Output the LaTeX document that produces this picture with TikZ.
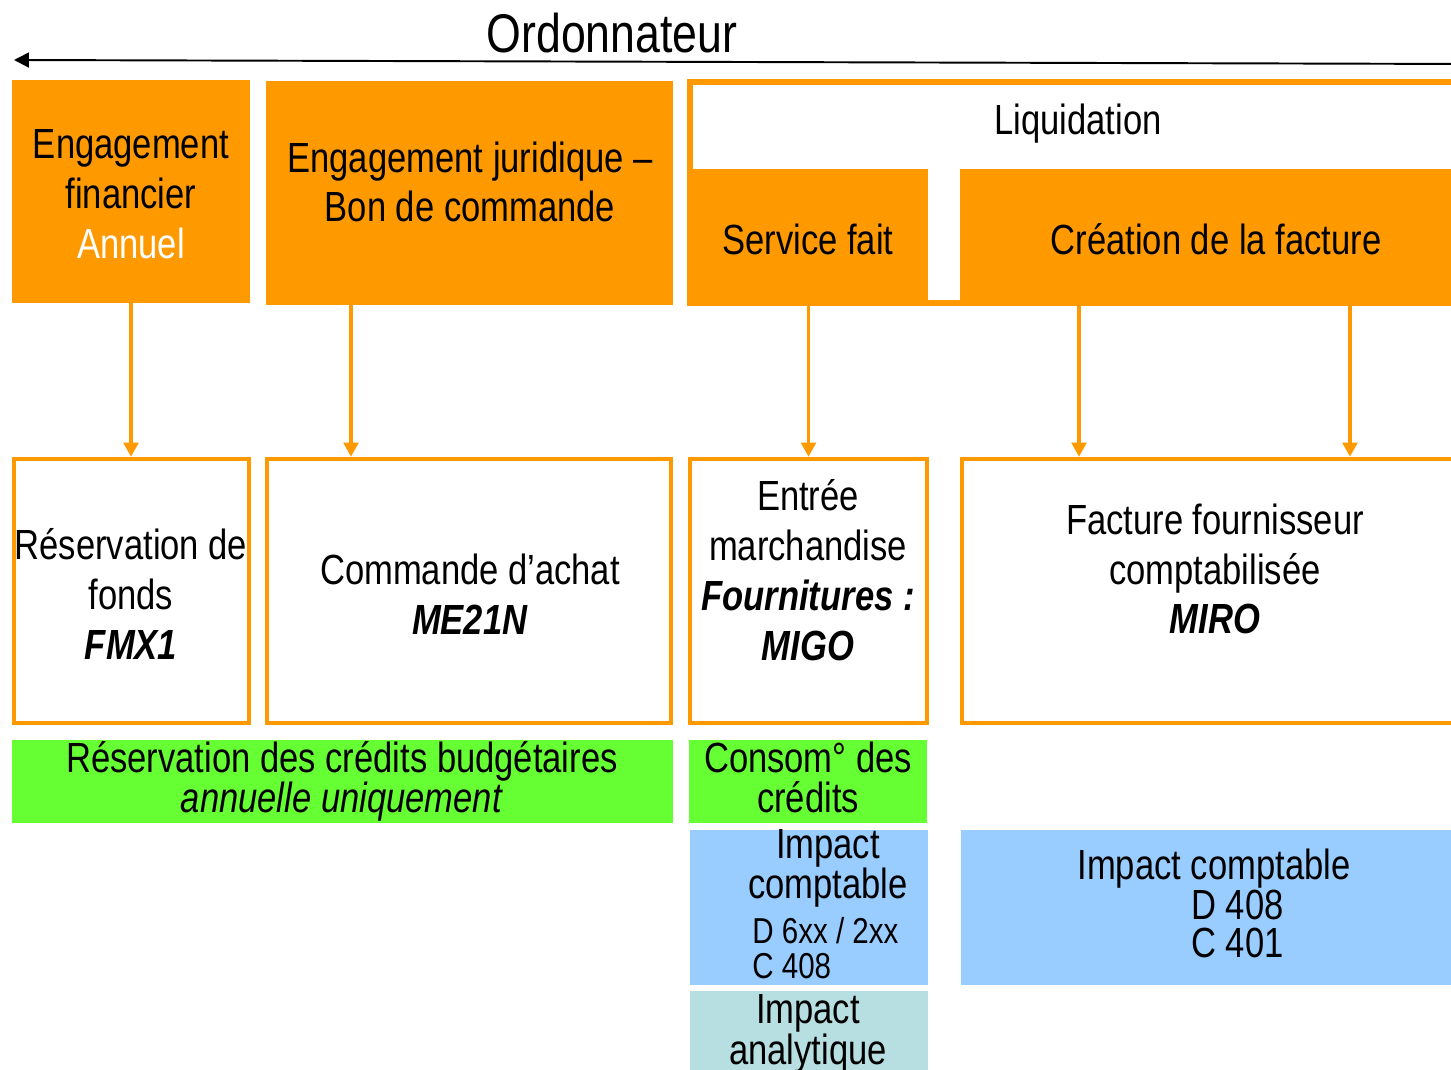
\documentclass[tikz,border=0pt]{standalone}
\usepackage{fontspec}
\setmainfont{Liberation Sans}[FakeStretch=0.82]
\usetikzlibrary{arrows.meta,fit}
\definecolor{orangeF}{RGB}{255,153,0}
\definecolor{vertB}{RGB}{102,255,51}
\definecolor{bleuC}{RGB}{153,204,255}
\definecolor{bleuA}{RGB}{183,222,224}
\newcommand{\serre}{\fontsize{24}{22.7}\selectfont}
\newcommand{\petit}{\fontsize{20.5}{19.8}\selectfont}
\newcommand{\code}[1]{\textbf{\textit{#1}}}
\tikzset{
  etape/.style={fill=orangeF, inner sep=0pt},
  cadre/.style={draw=orangeF, line width=3.4pt, inner sep=0pt},
  transac/.style={draw=orangeF, line width=2.55pt, fill=white, inner sep=0pt},
  credit/.style={fill=vertB, inner sep=0pt},
  impact/.style={fill=bleuC, inner sep=0pt},
  analyt/.style={fill=bleuA, inner sep=0pt},
  fleche/.style={draw=orangeF, line width=1.9pt, -{Triangle[width=8.3pt,length=8pt]}},
  txt/.style={inner sep=0pt, align=center}
}

\begin{document}
\begin{tikzpicture}[x=0.02cm, y=-0.02cm, font=\fontsize{24}{28.35}\selectfont]
    \clip (0,0) rectangle (1451,1070);
    \fill[white] (0,0) rectangle (1451,1070);
    %ordonnateur
    \node[txt, font=\fontsize{31}{36}\selectfont] (ordo) at (612,33) {Ordonnateur};
    \coordinate (debut) at (1470,64);
    \coordinate (fin) at (14,60);
    \draw[line width=1.1pt, -{Triangle[width=8.5pt,length=8.5pt]}] (debut) -- (fin);

    %etapes
    \node[etape, fit={(12,80) (250,303)}] (ef) {};
    \node[etape, fit={(266,81) (673,305)}] (ej) {};
    \node[cadre, fit={(690,82) (1475,303)}] (liq) {};
    \node[etape, fit={(687,169) (928,306)}] (sf) {};
    \node[etape, fit={(960,169) (1475,300)}] (cf) {};
    \node[txt] (efT) at (131,194) {Engagement\\financier\\\textcolor{white}{Annuel}};
    \node[txt] (ejT) at (470,182) {Engagement juridique --\\Bon de commande};
    \node[txt] (liqT) at (1078,124) {Liquidation};
    \node[txt] (sfT) at (808,239) {Service fait};
    \node[txt] (cfT) at (1216,239) {Création de la facture};

    %transactions
    \node[transac, fit={(14,459) (249,723)}] (rf) {};
    \node[transac, fit={(267,459) (671,723)}] (ca) {};
    \node[transac, fit={(690,459) (927,723)}] (em) {};
    \node[transac, fit={(962,459) (1475,723)}] (ff) {};
    \node[txt] (rfT) at (131,594) {Réservation de\\fonds\\\code{FMX1}};
    \node[txt] (caT) at (470,594) {Commande d’achat\\\code{ME21N}};
    \node[txt] (emT) at (808,570) {Entrée\\marchandise\\\code{Fournitures :}\\\code{MIGO}};
    \node[txt] (ffT) at (1215,569) {Facture fournisseur\\comptabilisée\\\code{MIRO}};

    \draw[fleche] (ef.south) -- (ef.south |- rf.north);
    \draw[fleche] ([xshift=-2.37cm]ej.south) -- ([xshift=-2.37cm]ej.south |- ca.north);
    \draw[fleche] (sf.south -| em.north) -- (em.north);
    \draw[fleche] ([xshift=-2.77cm]cf.south) -- ([xshift=-2.77cm]cf.south |- ff.north);
    \draw[fleche] ([xshift=2.65cm]cf.south) -- ([xshift=2.65cm]cf.south |- ff.north);

    %credits et impacts
    \node[credit, fit={(12,740) (673,823)}] (rc) {};
    \node[credit, fit={(689,740) (927,823)}] (cc) {};
    \node[impact, fit={(690,830) (928,985)}] (ic) {};
    \node[impact, fit={(961,830) (1475,985)}] (ic2) {};
    \node[analyt, fit={(690,991) (928,1090)}] (ia) {};
    \node[txt, font=\serre] (rcT) at (342,781) {Réservation des crédits budgétaires\\\textit{annuelle uniquement}};
    \node[txt, font=\serre] (ccT) at (808,777) {Consom° des\\crédits};
    \node[txt, font=\serre] (icT) at (828,868) {Impact\\comptable};
    \node[txt, font=\petit, align=left, anchor=west] (icD) at (752,948) {D 6xx / 2xx\\C 408};
    \node[txt, font=\serre] (ic2T) at (1214,869) {Impact comptable};
    \node[txt, font=\fontsize{24}{22}\selectfont, align=left, anchor=west] (ic2D) at (1191,924) {D 408\\C 401};
    \node[txt, font=\fontsize{24}{21.5}\selectfont] (iaT) at (808,1034) {Impact\\analytique};
\end{tikzpicture}
\end{document}
